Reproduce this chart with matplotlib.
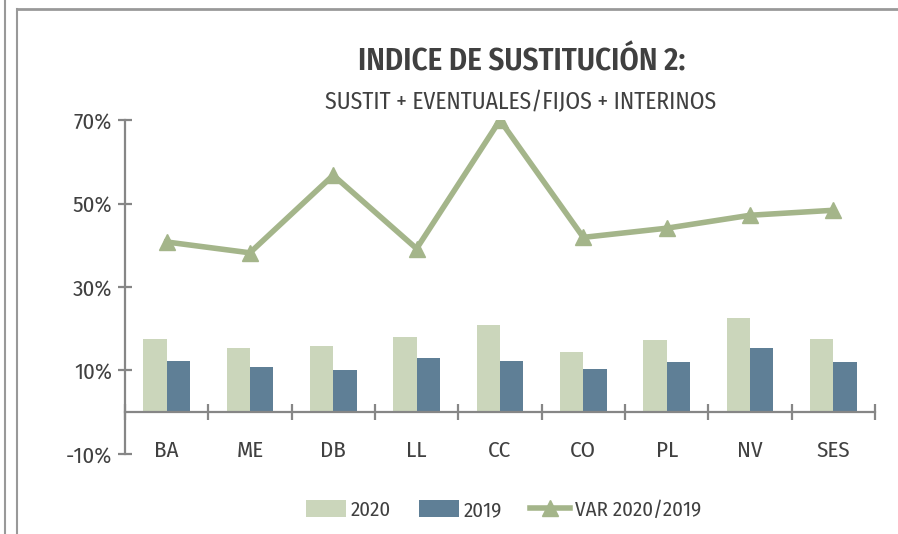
import numpy as np
import matplotlib
matplotlib.use('Agg')
import matplotlib.pyplot as plt
from matplotlib.lines import Line2D

plt.rcParams['font.family'] = ['Fira Sans Condensed', 'DejaVu Sans']

categories = ['BA', 'ME', 'DB', 'LL', 'CC', 'CO', 'PL', 'NV', 'SES']
v2020 = [17.5, 15.4, 15.8, 18.0, 21.0, 14.4, 17.4, 22.5, 17.6]
v2019 = [12.2, 10.9, 10.0, 12.9, 12.2, 10.3, 12.0, 15.5, 12.0]
var = [40.8, 38.2, 56.8, 39.2, 70.0, 41.9, 44.1, 47.2, 48.4]
yticks = [-10, 10, 30, 50, 70]

c2020 = '#cbd6bb'
c2019 = '#5f7f96'
cvar = '#a4b58a'
txt = '#404040'
axc = '#868686'

fig = plt.figure(figsize=(8.98, 5.34), dpi=100)
ax = fig.add_axes([0.139, 0.150, 0.8355, 0.625])

x = np.arange(len(categories))
w = 0.28
b1 = ax.bar(x - w / 2, v2020, w, color=c2020, label='2020', zorder=2)
b2 = ax.bar(x + w / 2, v2019, w, color=c2019, label='2019', zorder=2)
l1, = ax.plot(x, var, color=cvar, lw=4, marker='^', ms=12, label='VAR 2020/2019', zorder=3)

ax.set_xlim(-0.5, len(categories) - 0.5)
ax.set_ylim(-10, 70)
ax.set_yticks(yticks)
ax.set_yticklabels([f'{t}%' for t in yticks], fontsize=16.5, color=txt)

for s in ['top', 'right']:
    ax.spines[s].set_visible(False)
ax.spines['left'].set_color(axc)
ax.spines['left'].set_linewidth(1.6)
ax.spines['bottom'].set_position(('data', 0))
ax.spines['bottom'].set_color(axc)
ax.spines['bottom'].set_linewidth(1.6)

ax.set_xticks(np.arange(len(categories) + 1) - 0.5)
ax.set_xticklabels([])
ax.set_xticks(x, minor=True)
ax.set_xticklabels(categories, minor=True, fontsize=16.5, color=txt)
ax.tick_params(axis='x', which='major', direction='inout', length=11.5, width=1.6, color=axc)
ax.tick_params(axis='x', which='minor', length=0, pad=20)
ax.tick_params(axis='y', direction='inout', length=10, width=1.6, color=axc, pad=4)

fig.text(0.581, 0.884, 'INDICE DE SUSTITUCIÓN 2:', ha='center', va='center',
         fontsize=22.3, fontweight='semibold', color=txt)
fig.text(0.580, 0.809, 'SUSTIT + EVENTUALES/FIJOS + INTERINOS', ha='center', va='center',
         fontsize=17, color=txt)

fig.legend([b1, b2, l1], ['2020', '2019', 'VAR 2020/2019'], loc='center',
           bbox_to_anchor=(0.561, 0.045), ncol=3, frameon=False,
           fontsize=15, handlelength=1.9, handleheight=0.9, columnspacing=1.35,
           labelcolor=txt, handletextpad=0.25)

# frame lines around the chart
fc = '#999999'
fig.add_artist(Line2D([5 / 898, 5 / 898], [0, 1], transform=fig.transFigure, color=fc, lw=1.5))
fig.add_artist(Line2D([17 / 898, 17 / 898], [0, 1 - 9 / 534], transform=fig.transFigure, color=fc, lw=1.5))
fig.add_artist(Line2D([17 / 898, 1], [1 - 9 / 534, 1 - 9 / 534], transform=fig.transFigure, color=fc, lw=2))

fig.savefig('out.png', dpi=100)
